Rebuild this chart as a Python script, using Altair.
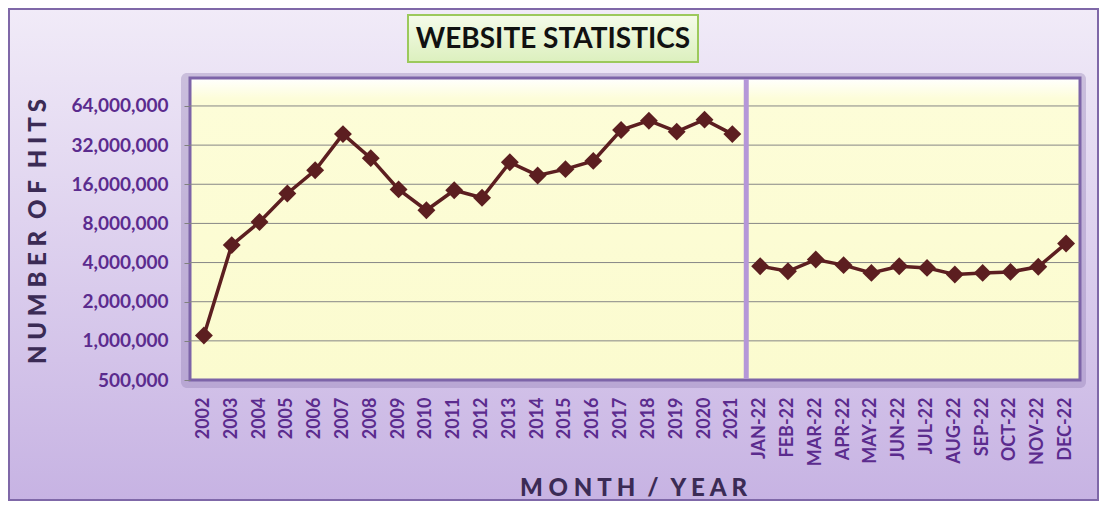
import altair as alt
import pandas as pd

years = ["2002", "2003", "2004", "2005", "2006", "2007", "2008", "2009", "2010", "2011",
         "2012", "2013", "2014", "2015", "2016", "2017", "2018", "2019", "2020", "2021"]
year_hits = [1100000, 5450000, 8200000, 13600000, 20500000, 38900000, 25400000, 14600000,
             10100000, 14400000, 12600000, 23600000, 18700000, 20900000, 24200000, 41800000,
             49300000, 40600000, 50200000, 38900000]
months = ["JAN-22", "FEB-22", "MAR-22", "APR-22", "MAY-22", "JUN-22", "JUL-22", "AUG-22",
          "SEP-22", "OCT-22", "NOV-22", "DEC-22"]
month_hits = [3750000, 3430000, 4220000, 3820000, 3330000, 3750000, 3640000, 3240000,
              3330000, 3390000, 3710000, 5610000]
y_ticks = [500000, 1000000, 2000000, 4000000, 8000000, 16000000, 32000000, 64000000]
grid_values = [1000000, 2000000, 4000000, 8000000, 16000000, 32000000, 64000000]
title_text = "WEBSITE STATISTICS"
y_title = "N U M B E R\u2002O F\u2002H I T S"
x_title = "M O N T H\u2002/\u2002Y E A R"

W, H = 890, 302
categories = years + months
df = pd.DataFrame({
    "cat": categories,
    "hits": year_hits + month_hits,
    "grp": ["year"] * len(years) + ["month"] * len(months),
})

LINE = "#5c1e20"
LABEL = "#5b2b8e"
TITLE = "#3b2b55"

yscale = alt.Scale(type="log", base=2, domain=[500000, 105000000], nice=False, zero=False)
xscale = alt.Scale(type="band", paddingInner=0, paddingOuter=0, domain=categories)

x_axis = alt.Axis(title=x_title, labelAngle=270,
                  labelAlign="right", labelBaseline="middle",
                  labelFont="Lato", labelFontWeight="bold", labelFontSize=18,
                  labelColor=LABEL, labelPadding=17, ticks=False, domain=False,
                  grid=False, zindex=1, labelOverlap=False,
                  titleFont="Lato", titleFontWeight=900, titleFontSize=24,
                  titleColor=TITLE, titleX=443, titleY=108,
                  titleAlign="center", titleBaseline="middle")
y_axis = alt.Axis(values=y_ticks, format=",.0f", title=y_title,
                  labelFont="Lato", labelFontWeight="bold", labelFontSize=19, labelColor=LABEL,
                  labelPadding=16, tickSize=6, tickColor="#808080",
                  domain=False, grid=False, zindex=1,
                  titleFont="Lato", titleFontWeight=900, titleFontSize=24,
                  titleColor=TITLE, titleAngle=270, titleX=-152, titleY=153,
                  titleAlign="center", titleBaseline="middle")

one = alt.Data(values=[{"a": 1}])

def grad(stops):
    return alt.Gradient(gradient="linear", x1=0, x2=0, y1=0, y2=1,
                        stops=[alt.GradientStop(color=c, offset=o) for o, c in stops])

bg = alt.Chart(one).mark_rect(
    fill=grad([(0, "#f1ebf8"), (1, "#c7b3e3")]), stroke="#7f68a8", strokeWidth=2
).encode(x=alt.value(-181), x2=alt.value(908), y=alt.value(-69), y2=alt.value(422))

shadow = alt.Chart(one).mark_rect(
    fill="#8c78b0", opacity=0.35, cornerRadius=6
).encode(x=alt.value(-9), x2=alt.value(W + 6), y=alt.value(-5), y2=alt.value(H + 8))

plotfill = alt.Chart(one).mark_rect(
    fill=grad([(0, "#ffffff"), (0.07, "#fdfdd8"), (1, "#fbfbcf")]),
    stroke="#7d64a8", strokeWidth=3
).encode(x=alt.value(0), x2=alt.value(W), y=alt.value(0), y2=alt.value(H))

grid = alt.Chart(pd.DataFrame({"hits": grid_values})).mark_rule(
    color="#878787", strokeWidth=1
).encode(y=alt.Y("hits:Q", scale=yscale, axis=y_axis), x=alt.value(0), x2=alt.value(W))

divider = alt.Chart(pd.DataFrame({"cat": ["JAN-22"]})).mark_rule(
    color="#b597d8", strokeWidth=5
).encode(x=alt.X("cat:N", scale=xscale, sort=categories, bandPosition=0, axis=x_axis),
         y=alt.value(1), y2=alt.value(H - 1))

tbox = alt.Chart(one).mark_rect(
    fill=grad([(0, "#f5fbea"), (1, "#dcf0be")]), stroke="#9cc95c", strokeWidth=2
).encode(x=alt.value(218), x2=alt.value(508), y=alt.value(-63), y2=alt.value(-16))

ttext = alt.Chart(alt.Data(values=[{"t": title_text}])).mark_text(
    font="Lato", fontWeight="bold", fontSize=28, color="#111111",
    align="center", baseline="middle"
).encode(text="t:N", x=alt.value(363), y=alt.value(-38))

base = alt.Chart(df)
line = base.mark_line(color=LINE, strokeWidth=3.5).encode(
    x=alt.X("cat:N", scale=xscale, sort=categories, axis=x_axis),
    y=alt.Y("hits:Q", scale=yscale, axis=y_axis),
    detail="grp:N",
)
pts = base.mark_point(shape="diamond", filled=True, size=320, color=LINE, opacity=1).encode(
    x=alt.X("cat:N", scale=xscale, sort=categories, axis=x_axis),
    y=alt.Y("hits:Q", scale=yscale, axis=y_axis),
)

chart = alt.layer(bg, shadow, plotfill, grid, divider, tbox, ttext, line, pts).properties(
    width=W, height=H,
    padding={"left": 182, "top": 70, "right": 19, "bottom": 121},
    autosize=alt.AutoSizeParams(type="none"),
).configure_view(stroke=None)

chart.save("out.html", embed_options={"renderer": "svg", "actions": False})
